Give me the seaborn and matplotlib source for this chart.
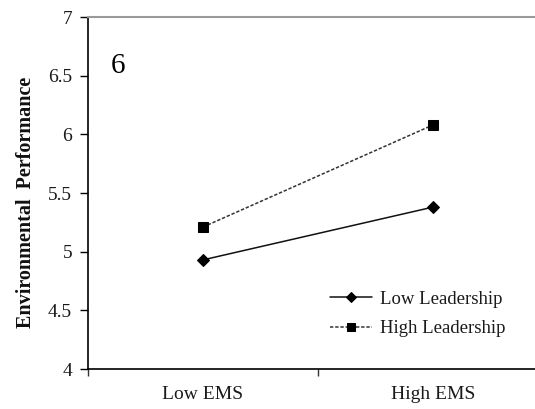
import matplotlib
matplotlib.use("Agg")
import matplotlib.pyplot as plt
import seaborn as sns
import pandas as pd
from matplotlib.ticker import FixedLocator, NullFormatter, FixedFormatter

# Simple-slopes data
ems_levels = ["Low EMS", "High EMS"]
low_leadership = [4.93, 5.38]
high_leadership = [5.21, 6.08]
y_ticks = [4, 4.5, 5, 5.5, 6, 6.5, 7]
y_tick_labels = ["4", "4.5", "5", "5.5", "6", "6.5", "7"]

sns.set_theme(style="white")
plt.rcParams["font.family"] = ["Liberation Serif", "DejaVu Serif"]

df = pd.DataFrame({
    "pos": [0, 1, 0, 1],
    "value": low_leadership + high_leadership,
    "group": ["Low Leadership"] * 2 + ["High Leadership"] * 2,
})

fig = plt.figure(figsize=(5.35, 4.09), dpi=100)
ax = fig.add_axes([88 / 535, 40 / 409, 460 / 535, 352 / 409])

sns.lineplot(data=df[df.group == "Low Leadership"], x="pos", y="value", ax=ax,
             color="#111111", lw=1.1, marker="D", markersize=6.5,
             markeredgecolor="#000000", markerfacecolor="#000000",
             label="Low Leadership")
sns.lineplot(data=df[df.group == "High Leadership"], x="pos", y="value", ax=ax,
             color="#333333", lw=1.1, marker="s", markersize=7.5,
             markeredgecolor="#000000", markerfacecolor="#000000",
             dashes=(2.2, 1.2), label="High Leadership")

ax.set_xlim(-0.5, 1.5)
ax.set_ylim(4, 7)

# y axis
ax.set_yticks(y_ticks)
ax.set_yticklabels(y_tick_labels)
ax.tick_params(axis="y", direction="out", length=5.5, width=1, color="#000000",
               pad=6, labelsize=14, labelcolor="#1a1a1a", left=True)

# x axis: ticks at category boundaries, labels at category centres
ax.xaxis.set_major_locator(FixedLocator([-0.5, 0.5]))
ax.xaxis.set_major_formatter(NullFormatter())
ax.xaxis.set_minor_locator(FixedLocator([0, 1]))
ax.xaxis.set_minor_formatter(FixedFormatter(ems_levels))
ax.tick_params(axis="x", which="major", direction="out", length=5, width=1,
               color="#333333", bottom=True)
ax.tick_params(axis="x", which="minor", length=0, pad=12, labelsize=14,
               labelcolor="#1a1a1a", bottom=True)

ax.set_xlabel("")
ax.set_ylabel("Environmental  Performance", fontsize=14.5, fontweight="bold",
              color="#111111")
ax.yaxis.set_label_coords(-0.113, 0.474)

for side in ["left", "bottom"]:
    ax.spines[side].set_color("#000000")
    ax.spines[side].set_linewidth(1.2)
ax.spines["top"].set_color("#999999")
ax.spines["top"].set_linewidth(1.5)
ax.spines["right"].set_visible(False)

ax.text(0.065, 0.86, "6", transform=ax.transAxes, fontsize=21,
        ha="center", va="center", color="#000000")

leg = ax.legend(loc="upper left", bbox_to_anchor=(0.526, 0.222), frameon=False,
                fontsize=13.5, handlelength=2.24, handletextpad=0.43,
                labelspacing=0.65, borderaxespad=0, borderpad=0, numpoints=1,
                markerscale=0.75)
for t in leg.get_texts():
    t.set_color("#1a1a1a")

fig.savefig("out.png", dpi=100)
